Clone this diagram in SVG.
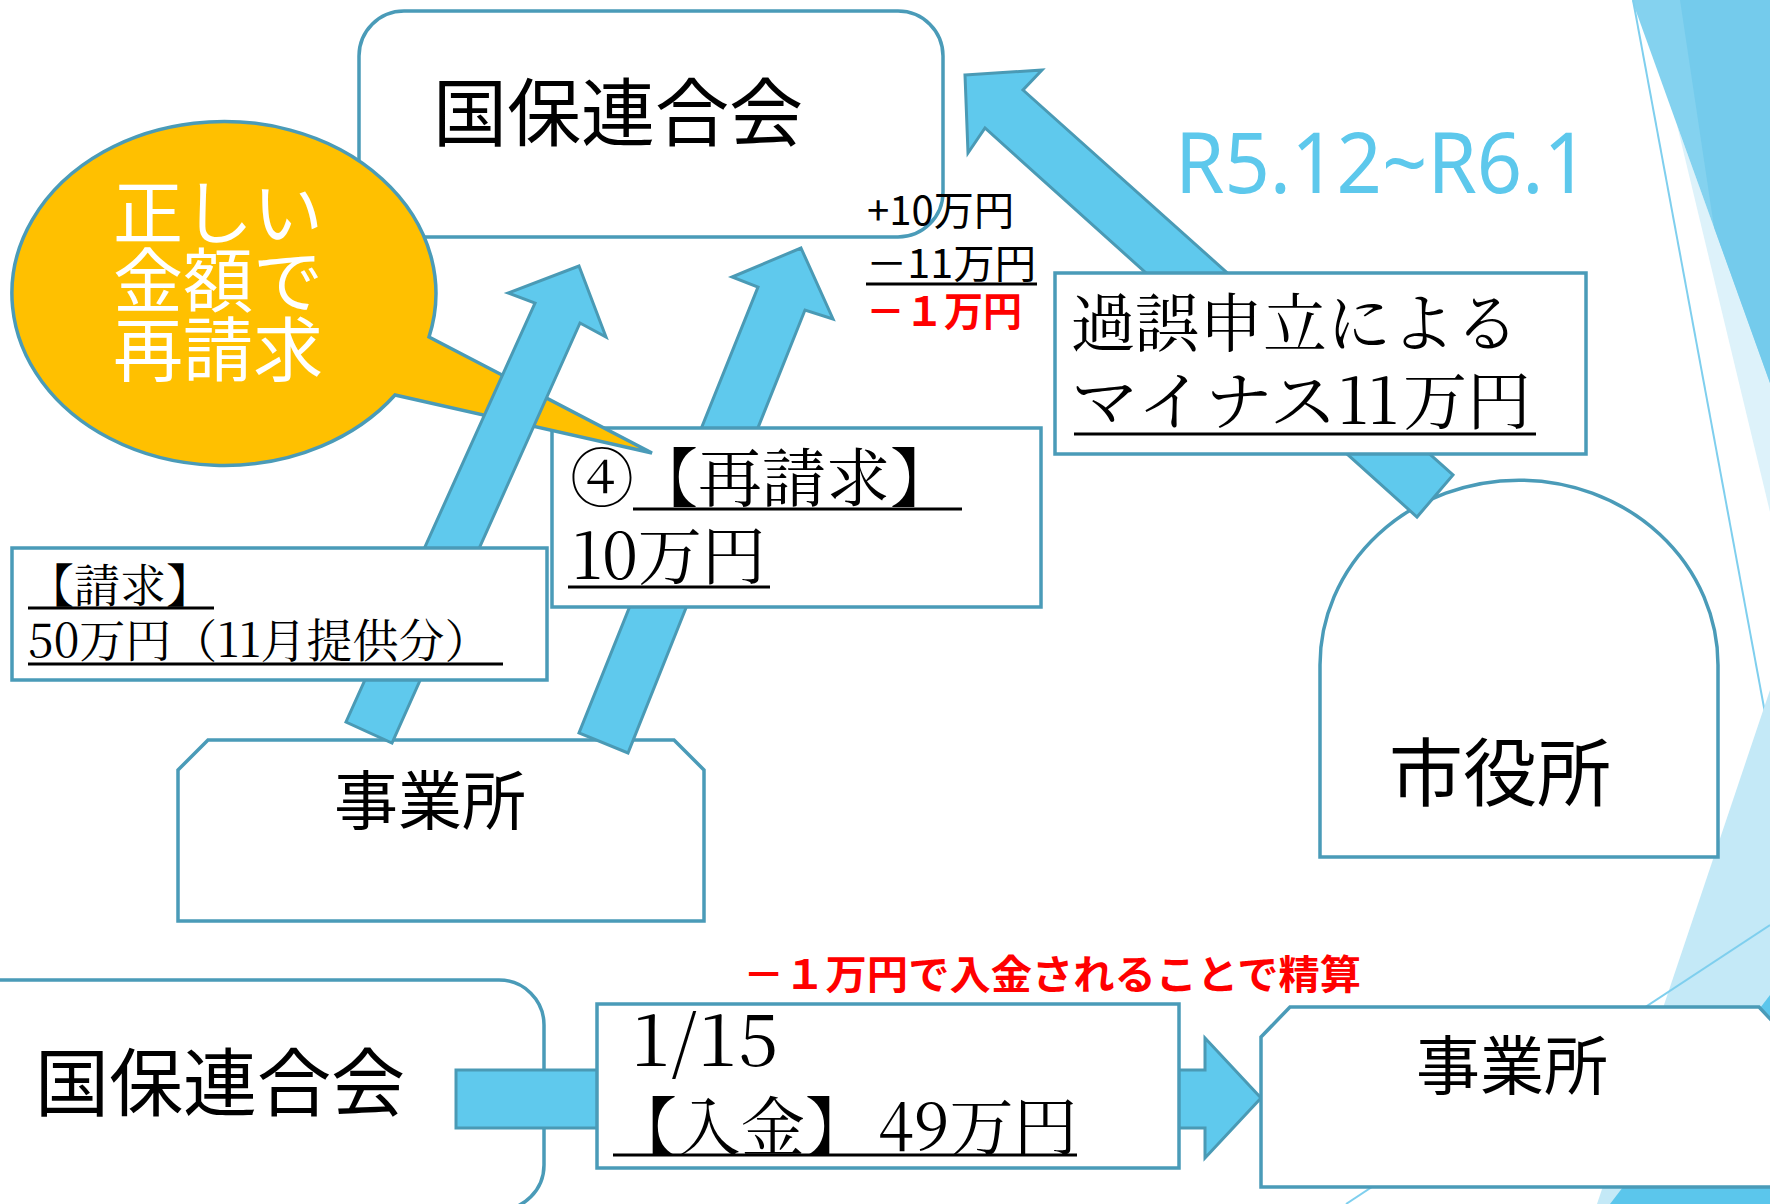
<svg xmlns="http://www.w3.org/2000/svg" width="1770" height="1204" viewBox="0 0 1770 1204">
<defs>
<style>
.box{fill:#fff;stroke:#4A9BB8;stroke-width:3.5}
.arrow{fill:#5FC9ED;stroke:#4A9AB5;stroke-width:3;stroke-linejoin:miter}
.g{font-family:"Noto Sans CJK JP",sans-serif;fill:#000}
.m{font-family:"Noto Serif CJK JP","Liberation Serif","Noto Sans CJK JP",serif;fill:#000}
.ul{stroke:#000;stroke-width:3}
.red{font-family:"Noto Sans CJK JP",sans-serif;font-weight:bold;fill:#FF0000}
.dl{stroke:#7FCFEE;stroke-width:2;fill:none}
</style>
</defs>
<rect x="0" y="0" width="1770" height="1204" fill="#fff"/>

<g id="decoration">
  <polygon points="1677,125 1770,383 1770,512" fill="#DDF2FA"/>
  <polygon points="1632,0 1770,0 1770,383" fill="#84D2EF"/>
  <polygon points="1680,0 1770,0 1770,383 1714,227" fill="#74CBEC"/>
  <line class="dl" x1="1633" y1="0" x2="1770" y2="740"/>
  <polygon points="1770,690 1770,1204 1597,1204" fill="#C4E9F7"/>
  <polygon points="1770,995 1770,1204 1610,1204" fill="#5BC6EC"/>
  <line class="dl" x1="1770" y1="925" x2="1346" y2="1204"/>
</g>

<g id="kokuho-top">
  <rect class="box" x="359" y="11" width="584" height="226" rx="45"/>
  <text class="g" x="618" y="140" font-size="74" text-anchor="middle">国保連合会</text>
</g>

<g id="shiyakusho">
  <path class="box" d="M1320,857 V665 A199,185 0 0 1 1718,665 V857 Z"/>
  <text class="g" x="1500" y="800" font-size="74" text-anchor="middle">市役所</text>
</g>

<g id="jigyosho-top">
  <polygon class="box" points="178,770 208,740 674,740 704,770 704,921 178,921"/>
  <text class="g" x="430" y="824" font-size="64" text-anchor="middle">事業所</text>
</g>

<g id="connectors">
  <polygon id="arrow-saiseikyu" class="arrow" points="801,248 833,319 805,310 628,753 579,733 758,287 732,277"/>
</g>

<g id="saiseikyu">
  <rect class="box" x="552" y="428" width="489" height="179"/>
  <text class="m" x="570" y="501" font-size="64">④【再請求】</text>
  <line class="ul" x1="633" y1="509" x2="962" y2="509"/>
  <text class="m" x="572" y="579" font-size="64">10万円</text>
  <line class="ul" x1="568" y1="587" x2="770" y2="587"/>
</g>

<g id="bubble">
  <path d="M429,337 L652,453 L395,395 A212,172 0 1 1 429,337 Z" fill="#FFC000" stroke="#4A9BB8" stroke-width="3.5"/>
  <text class="g" font-size="70" style="fill:#fff">
    <tspan x="113" y="239">正しい</tspan>
    <tspan x="113" y="307">金額で</tspan>
    <tspan x="113" y="376">再請求</tspan>
  </text>
</g>

<g id="connectors-2">
  <polygon id="arrow-seikyu" class="arrow" points="579,266 606,337 580,323 392,743 346,722 535,303 508,293"/>
</g>

<g id="seikyu">
  <rect class="box" x="12" y="548" width="535" height="132"/>
  <text class="m" x="28" y="602" font-size="46">【請求】</text>
  <line class="ul" x1="28" y1="608" x2="214" y2="608"/>
  <text class="m" x="28" y="657" font-size="46">50万円（11月提供分）</text>
  <line class="ul" x1="28" y1="664" x2="503" y2="664"/>
</g>

<g id="connectors-3">
  <polygon id="arrow-kago" class="arrow" points="965,75 1042,70 1023,90 1453,475 1417,517 985,128 968,153"/>
</g>

<g id="kago">
  <rect class="box" x="1055" y="273" width="531" height="181"/>
  <text class="m" x="1071" y="346" font-size="64">過誤申立による</text>
  <text class="m" y="424" font-size="64"><tspan x="1071" textLength="266" lengthAdjust="spacingAndGlyphs">マイナス</tspan><tspan x="1338">11</tspan><tspan x="1403">万円</tspan></text>
  <line class="ul" x1="1074" y1="434" x2="1536" y2="434"/>
</g>

<g id="calc">
  <text class="g" x="867" y="225" font-size="40" textLength="147" lengthAdjust="spacingAndGlyphs">+10万円</text>
  <text class="g" x="866" y="278" font-size="40" textLength="170" lengthAdjust="spacingAndGlyphs">－11万円</text>
  <line class="ul" x1="866" y1="284" x2="1037" y2="284"/>
  <text class="red" x="866" y="326" font-size="40" textLength="156" lengthAdjust="spacingAndGlyphs">－１万円</text>
</g>

<g id="period">
  <text x="1175" y="193" font-size="84" font-family="Noto Sans, sans-serif" fill="#5DC8EC" textLength="414" lengthAdjust="spacingAndGlyphs">R5.12~R6.1</text>
</g>

<g id="kokuho-bottom">
  <rect class="box" x="-60" y="980" width="604" height="230" rx="45"/>
  <text class="g" x="220" y="1110" font-size="74" text-anchor="middle">国保連合会</text>
</g>

<g id="connectors-4">
  <polygon id="arrow-nyukin" class="arrow" points="456,1070 1205,1070 1205,1038 1261,1098 1205,1158 1205,1128 456,1128"/>
</g>

<g id="nyukin">
  <rect class="box" x="597" y="1004" width="582" height="164"/>
  <text class="m" x="631" y="1066" font-size="72" textLength="147" lengthAdjust="spacing">1/15</text>
  <text class="m" y="1150" font-size="64"><tspan x="613">【入金】</tspan><tspan x="878">49万円</tspan></text>
  <line class="ul" x1="613" y1="1155" x2="1077" y2="1155"/>
</g>

<g id="jigyosho-bottom">
  <polygon class="box" points="1261,1037 1290,1007 1759,1007 1790,1040 1790,1187 1261,1187"/>
  <text class="g" x="1512" y="1089" font-size="64" text-anchor="middle">事業所</text>
</g>

<g id="note">
  <text class="red" x="743" y="989" font-size="40" textLength="618" lengthAdjust="spacingAndGlyphs">－１万円で入金されることで精算</text>
</g>
</svg>
